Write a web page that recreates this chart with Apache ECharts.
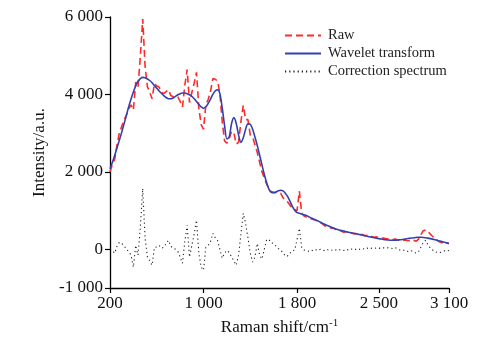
<!DOCTYPE html>
<html>
<head>
<meta charset="utf-8">
<script src="https://cdn.jsdelivr.net/npm/echarts@6/dist/echarts.min.js"></script>
<style>
  html, body { margin: 0; padding: 0; background: #fff; }
  #chart { width: 502px; height: 347px; }
</style>
</head>
<body>
<div id="chart"></div>
<script>
// Raman shift sampling (cm^-1)
const ramanShift = [
  200, 220, 240, 260, 280, 300, 320, 340, 360, 380,
  400, 420, 440, 460, 480, 500, 520, 540, 560, 580,
  600, 620, 640, 660, 680, 700, 720, 740, 760, 780,
  800, 820, 840, 860, 880, 900, 920, 940, 960, 980,
  1000, 1020, 1040, 1060, 1080, 1100, 1120, 1140, 1160, 1180,
  1200, 1220, 1240, 1260, 1280, 1300, 1320, 1340, 1360, 1380,
  1400, 1420, 1440, 1460, 1480, 1500, 1520, 1540, 1560, 1580,
  1600, 1620, 1640, 1660, 1680, 1700, 1720, 1740, 1760, 1780,
  1800, 1820, 1840, 1860, 1880, 1900, 1920, 1940, 1960, 1980,
  2000, 2020, 2040, 2060, 2080, 2100, 2120, 2140, 2160, 2180,
  2200, 2220, 2240, 2260, 2280, 2300, 2320, 2340, 2360, 2380,
  2400, 2420, 2440, 2460, 2480, 2500, 2520, 2540, 2560, 2580,
  2600, 2620, 2640, 2660, 2680, 2700, 2720, 2740, 2760, 2780,
  2800, 2820, 2840, 2860, 2880, 2900, 2920, 2940, 2960, 2980,
  3000, 3020, 3040, 3060, 3080, 3100
];

// Measured spectrum
const rawSpectrum = [
  2000, 2190, 2320, 2700, 3000, 3170, 3340, 3460, 3620, 3730,
  3600, 4320, 4190, 5010, 5950, 4730, 4200, 4060, 3890, 4280,
  4220, 4190, 4060, 4020, 4070, 4120, 3970, 3940, 3950, 3940,
  3820, 3675, 4235, 4640, 3790, 4050, 4290, 4570, 3640, 3220,
  3100, 3730, 3870, 4080, 4410, 4390, 4350, 4020, 3300, 2800,
  2740, 2860, 3050, 3000, 2720, 2760, 3300, 3720, 3350, 3350,
  2950, 2900, 2700, 2500, 2250, 2000, 1850, 1680, 1560, 1490,
  1470, 1470, 1470, 1450, 1330, 1260, 1220, 1140, 1060, 1020,
  1000, 1500, 930, 860, 830, 820, 790, 770, 750, 700,
  690, 650, 600, 600, 560, 545, 540, 490, 490, 465,
  440, 455, 420, 430, 405, 404, 372, 380, 380, 350,
  360, 330, 330, 310, 320, 300, 280, 290, 270, 270,
  260, 250, 265, 240, 230, 220, 240, 225, 220, 250,
  230, 210, 260, 380, 480, 500, 470, 390, 330, 290,
  230, 190, 170, 150, 160, 150
];

// Wavelet-smoothed spectrum
const waveletSpectrum = [
  2080, 2240, 2420, 2620, 2820, 3020, 3240, 3460, 3680, 3880,
  4060, 4220, 4340, 4410, 4440, 4430, 4400, 4360, 4300, 4230,
  4160, 4090, 4030, 3970, 3920, 3890, 3890, 3910, 3950, 3990,
  4020, 4035, 4035, 4020, 3990, 3950, 3890, 3820, 3740, 3680,
  3640, 3680, 3770, 3880, 4000, 4090, 4120, 4020, 3650, 3200,
  2850, 2900, 3250, 3400, 3250, 2950, 2760, 2880, 3100, 3240,
  3230, 3100, 2900, 2680, 2430, 2180, 1930, 1720, 1550, 1470,
  1460, 1480, 1510, 1525, 1510, 1450, 1360, 1240, 1110, 1010,
  950, 930, 910, 890, 870, 840, 810, 785, 760, 730,
  700, 670, 640, 615, 590, 565, 540, 520, 500, 485,
  470, 455, 440, 428, 416, 404, 392, 378, 364, 350,
  336, 322, 310, 298, 286, 275, 264, 254, 245, 238,
  234, 232, 233, 238, 245, 252, 262, 272, 282, 292,
  300, 306, 310, 310, 306, 298, 288, 276, 262, 246,
  230, 214, 198, 182, 166, 150
];

// Correction spectrum
const correctionSpectrum = [
  0, -30, -100, 80, 180, 150, 100, 0, -60, -150,
  -460, 100, -150, 600, 1570, 300, -200, -300, -410, 50,
  60, 100, 30, 50, 150, 230, 80, 30, 0, -50,
  -200, -360, 200, 620, -200, 100, 400, 750, -100, -460,
  -540, 50, 100, 200, 410, 300, 230, 0, -230, -100,
  -30, -80, -200, -300, -410, -150, 400, 930, 670, 300,
  -100, -330, -200, 150, -150, -250, 0, 250, 250, 170,
  150, 80, 20, -30, -80, -180, -170, -100, -40, -20,
  250, 540, 50, -20, -30, -50, -20, -40, -10, -30,
  0, -20, -40, -10, -30, -20, 0, -30, -10, -20,
  -30, 0, -20, 10, -10, 0, -20, 10, 20, 0,
  30, 10, 30, 20, 40, 30, 20, 40, 30, 40,
  30, 20, 40, 10, -20, -30, -20, -50, -60, -40,
  -80, -100, -60, 60, 180, 230, 120, 30, -20, -60,
  -80, -90, -60, -40, -50, -30
];

const xTickValues = [200, 1000, 1800, 2500, 3100];
const yTickValues = [-1000, 0, 2000, 4000, 6000];
const seriesNames = ['Raw', 'Wavelet transform', 'Correction spectrum'];

const serif = 'Liberation Serif, Times New Roman, serif';

// Thousands grouped with a space: 6000 -> "6 000"
function spaced(v) {
  const s = Math.abs(v).toString().replace(/\B(?=(\d{3})+(?!\d))/g, ' ');
  return (v < 0 ? '-' : '') + s;
}
const pairs = ys => ramanShift.map((x, i) => [x, ys[i]]);

const chart = echarts.init(document.getElementById('chart'), null, { renderer: 'canvas' });
chart.setOption({
  animation: false,
  backgroundColor: '#fff',
  grid: { left: 110, right: 53, top: 17, bottom: 59 },
  legend: {
    orient: 'vertical',
    left: 279,
    top: 23,
    itemWidth: 36,
    itemHeight: 10,
    itemGap: 3,
    data: seriesNames,
    itemStyle: { opacity: 0 },
    textStyle: { fontFamily: serif, fontSize: 14.5, color: '#222', padding: [0, 0, 0, 2] }
  },
  xAxis: {
    type: 'value',
    min: 200,
    max: 3100,
    name: 'Raman shift/cm{sup|-1}',
    nameLocation: 'middle',
    nameGap: 30,
    nameTextStyle: {
      fontFamily: serif, fontSize: 17, color: '#111',
      rich: { sup: { fontFamily: serif, fontSize: 11, color: '#111', padding: [0, 0, 9, 0] } }
    },
    axisLine: { onZero: false, lineStyle: { color: '#000', width: 1.3 } },
    axisTick: { customValues: xTickValues, length: 5, lineStyle: { color: '#000', width: 1.2 } },
    axisLabel: { customValues: xTickValues, formatter: spaced, fontFamily: serif, fontSize: 17, color: '#111', margin: 7 },
    splitLine: { show: false }
  },
  yAxis: {
    type: 'value',
    min: -1000,
    max: 6000,
    name: 'Intensity/a.u.',
    nameLocation: 'middle',
    nameGap: 49,
    nameTextStyle: { fontFamily: serif, fontSize: 17, color: '#111' },
    axisLine: { show: true, lineStyle: { color: '#000', width: 1.3 } },
    axisTick: { show: true, customValues: yTickValues, length: 5, lineStyle: { color: '#000', width: 1.2 } },
    axisLabel: { customValues: yTickValues, formatter: spaced, fontFamily: serif, fontSize: 17, color: '#111', margin: 7 },
    splitLine: { show: false }
  },
  series: [
    {
      name: seriesNames[0],
      type: 'line',
      data: pairs(rawSpectrum),
      symbol: 'none',
      lineStyle: { color: '#ff2a2a', width: 1.6, type: [7, 4] },
      itemStyle: { color: '#ff2a2a' },
      z: 2
    },
    {
      name: seriesNames[1],
      type: 'line',
      data: pairs(waveletSpectrum),
      symbol: 'none',
      smooth: 0.3,
      lineStyle: { color: '#3340b0', width: 1.6 },
      itemStyle: { color: '#3340b0' },
      z: 3
    },
    {
      name: seriesNames[2],
      type: 'line',
      data: pairs(correctionSpectrum),
      symbol: 'none',
      lineStyle: { color: '#222', width: 1.1, type: [1.2, 3] },
      itemStyle: { color: '#222' },
      z: 1
    }
  ]
});
</script>
</body>
</html>
